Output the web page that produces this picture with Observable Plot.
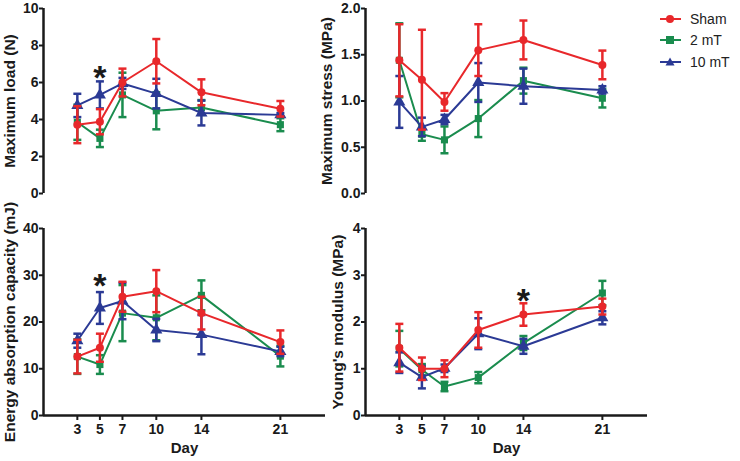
<!DOCTYPE html>
<html>
<head>
<meta charset="utf-8">
<script src="https://cdn.jsdelivr.net/npm/d3@7"></script>
<script src="https://cdn.jsdelivr.net/npm/@observablehq/plot@0.6"></script>
<style>
  html, body { margin: 0; padding: 0; background: #fff; }
  #chart { position: relative; width: 740px; height: 461px; font-family: "Liberation Sans", Arial, sans-serif; }
  #chart > .panel { position: absolute; }
  #legend { position: absolute; left: 660px; top: 8px; font-size: 14px; color: #222; }
  #legend .row { display: flex; align-items: center; height: 21.5px; }
  #legend svg { margin-right: 9px; }
</style>
</head>
<body>
<div id="chart"></div>
<script>
// ---- data ----
const days = [3, 5, 7, 10, 14, 21];
const seriesNames = ["Sham", "2 mT", "10 mT"];
const seriesColors = ["#e8282b", "#1a8c4e", "#2b3a95"];

// Maximum load (N)
const loadSham = [3.72, 3.88, 6.0, 7.15, 5.47, 4.58];
const loadShamSem = [1.0, 0.68, 0.75, 1.2, 0.7, 0.42];
const load2mT = [3.85, 2.98, 5.33, 4.47, 4.65, 3.72];
const load2mTSem = [0.95, 0.47, 1.2, 1.0, 0.4, 0.35];
const load10mT = [4.76, 5.33, 5.95, 5.4, 4.35, 4.25];
const load10mTSem = [0.63, 0.73, 0.3, 0.8, 0.67, 0.1];

// Maximum stress (MPa)
const stressSham = [1.44, 1.23, 0.99, 1.55, 1.66, 1.39];
const stressShamSem = [0.39, 0.54, 0.095, 0.28, 0.21, 0.155];
const stress2mT = [1.44, 0.64, 0.58, 0.81, 1.22, 1.03];
const stress2mTSem = [0.4, 0.07, 0.145, 0.2, 0.14, 0.1];
const stress10mT = [0.99, 0.72, 0.80, 1.20, 1.16, 1.12];
const stress10mTSem = [0.28, 0.1, 0.05, 0.21, 0.19, 0.04];

// Energy absorption capacity (mJ)
const energySham = [12.6, 14.5, 25.4, 26.6, 21.9, 15.7];
const energyShamSem = [3.6, 3.0, 3.2, 4.5, 3.5, 2.5];
const energy2mT = [12.6, 10.9, 21.9, 20.9, 25.7, 12.7];
const energy2mTSem = [3.7, 2.0, 6.0, 4.8, 3.2, 2.2];
const energy10mT = [16.0, 23.0, 24.5, 18.3, 17.3, 13.7];
const energy10mTSem = [1.5, 3.4, 3.9, 2.4, 4.2, 1.0];

// Young's modulus (MPa)
const youngSham = [1.45, 1.0, 1.0, 1.83, 2.16, 2.33];
const youngShamSem = [0.51, 0.24, 0.18, 0.38, 0.24, 0.17];
const young2mT = [1.43, 0.98, 0.62, 0.81, 1.55, 2.62];
const young2mTSem = [0.38, 0.12, 0.1, 0.12, 0.15, 0.26];
const young10mT = [1.13, 0.82, 1.01, 1.75, 1.48, 2.09];
const young10mTSem = [0.22, 0.24, 0.08, 0.33, 0.16, 0.14];

// significance markers
const starLoad = {day: 5, value: 6.75};
const starEnergy = {day: 5, value: 29.5};
const starYoung = {day: 14, value: 2.65};

// tick labels
const loadTicks = [0, 2, 4, 6, 8, 10];
const stressTicks = [0, 0.5, 1.0, 1.5, 2.0];
const energyTicks = [0, 10, 20, 30, 40];
const youngTicks = [0, 1, 2, 3, 4];

// ---- helpers ----
const FONT = "'Liberation Sans', Arial, Helvetica, sans-serif";
const capSymbol = {
  draw(context, size) {
    const w = Math.sqrt(size / Math.PI);
    context.moveTo(-w, 0);
    context.lineTo(w, 0);
  }
};
const symbols = ["circle", "square", "triangle"];

function rows(means, sems) {
  const out = [];
  means.forEach((m, s) => {
    days.forEach((d, i) => out.push({series: seriesNames[s], s, day: d, mean: m[i], lo: m[i] - sems[s][i], hi: m[i] + sems[s][i]}));
  });
  return out;
}

function panel({left, top, height, marginTop, marginBottom, domain, ticks, format, label, labelDx, xAxis, means, sems, star}) {
  const data = rows(means, sems);
  const order = [1, 2, 0]; // draw green, blue, then red on top
  const marks = [];
  for (const s of order) {
    const d = data.filter(r => r.s === s);
    const c = seriesColors[s];
    marks.push(
      Plot.ruleX(d, {x: "day", y1: "lo", y2: "hi", stroke: c, strokeWidth: 2.5}),
      Plot.dot(d, {x: "day", y: "lo", symbol: capSymbol, r: 4, stroke: c, strokeWidth: 2.5, fill: "none"}),
      Plot.dot(d, {x: "day", y: "hi", symbol: capSymbol, r: 4, stroke: c, strokeWidth: 2.5, fill: "none"}),
      Plot.line(d, {x: "day", y: "mean", stroke: c, strokeWidth: 2}),
      Plot.dot(d, {x: "day", y: "mean", symbol: symbols[s], r: s === 2 ? 4.5 : 4, fill: c, stroke: "none"})
    );
  }
  const plot = Plot.plot({
    width: 330,
    height,
    marginLeft: 43,
    marginRight: 5,
    marginTop,
    marginBottom,
    x: {domain: [0, 25], axis: null},
    y: {domain, axis: null},
    style: {fontFamily: FONT, fontSize: "14px", fontWeight: "bold", color: "#1a1a1a", background: "transparent", overflow: "visible"},
    marks: [
      Plot.axisY({ticks, tickFormat: format, tickSize: 4, tickPadding: 1, strokeWidth: 2, label: null}),
      xAxis ? Plot.axisX({ticks: days, tickFormat: d3.format("d"), tickSize: 5, tickPadding: 4, strokeWidth: 2, label: null}) : null,
      xAxis ? Plot.ruleY([domain[0]], {stroke: "#1a1a1a", strokeWidth: 2.5}) : null,
      xAxis ? Plot.text(["Day"], {frameAnchor: "bottom", dy: 37, fontSize: 15, fontWeight: "bold", fill: "#1a1a1a"}) : null,
      Plot.ruleX([0], {stroke: "#1a1a1a", strokeWidth: 2.5}),
      Plot.text([label], {frameAnchor: "left", textAnchor: "middle", rotate: -90, dx: labelDx, fontSize: 15.5, fontWeight: "bold", fill: "#1a1a1a"}),
      ...marks,
      star ? Plot.text([star], {x: "day", y: "value", text: () => "*", fontSize: 34, fontWeight: "bold", dy: 9, fill: "#1a1a1a"}) : null
    ]
  });
  plot.classList.add("panel");
  plot.style.left = left + "px";
  plot.style.top = top + "px";
  return plot;
}

const chart = document.getElementById("chart");
chart.append(
  panel({left: 0, top: 0, height: 200, marginTop: 8, marginBottom: 7, domain: [0, 10], ticks: loadTicks, format: d3.format("d"),
    label: "Maximum load (N)", labelDx: -33, xAxis: false,
    means: [loadSham, load2mT, load10mT], sems: [loadShamSem, load2mTSem, load10mTSem], star: starLoad}),
  panel({left: 322, top: 0, height: 200, marginTop: 8, marginBottom: 7, domain: [0, 2], ticks: stressTicks, format: d3.format(".1f"),
    label: "Maximum stress (MPa)", labelDx: -38, xAxis: false,
    means: [stressSham, stress2mT, stress10mT], sems: [stressShamSem, stress2mTSem, stress10mTSem], star: null}),
  panel({left: 0, top: 222, height: 239, marginTop: 6, marginBottom: 46, domain: [0, 40], ticks: energyTicks, format: d3.format("d"),
    label: "Energy absorption capacity (mJ)", labelDx: -33, xAxis: true,
    means: [energySham, energy2mT, energy10mT], sems: [energyShamSem, energy2mTSem, energy10mTSem], star: starEnergy}),
  panel({left: 322, top: 222, height: 239, marginTop: 6, marginBottom: 46, domain: [0, 4], ticks: youngTicks, format: d3.format("d"),
    label: "Young's modulus (MPa)", labelDx: -27, xAxis: true,
    means: [youngSham, young2mT, young10mT], sems: [youngShamSem, young2mTSem, young10mTSem], star: starYoung})
);

// legend
const legend = document.createElement("div");
legend.id = "legend";
const shapes = [
  c => `<circle cx="10" cy="6" r="4" fill="${c}"/>`,
  c => `<rect x="6" y="2" width="8" height="8" fill="${c}"/>`,
  c => `<path d="M10,1.5 L14.5,9.5 L5.5,9.5 Z" fill="${c}"/>`
];
seriesNames.forEach((n, i) => {
  const row = document.createElement("div");
  row.className = "row";
  row.innerHTML = `<svg width="21" height="12"><line x1="0" x2="21" y1="6" y2="6" stroke="${seriesColors[i]}" stroke-width="2"/>${shapes[i](seriesColors[i])}</svg><span>${n}</span>`;
  legend.append(row);
});
chart.append(legend);
</script>
</body>
</html>
